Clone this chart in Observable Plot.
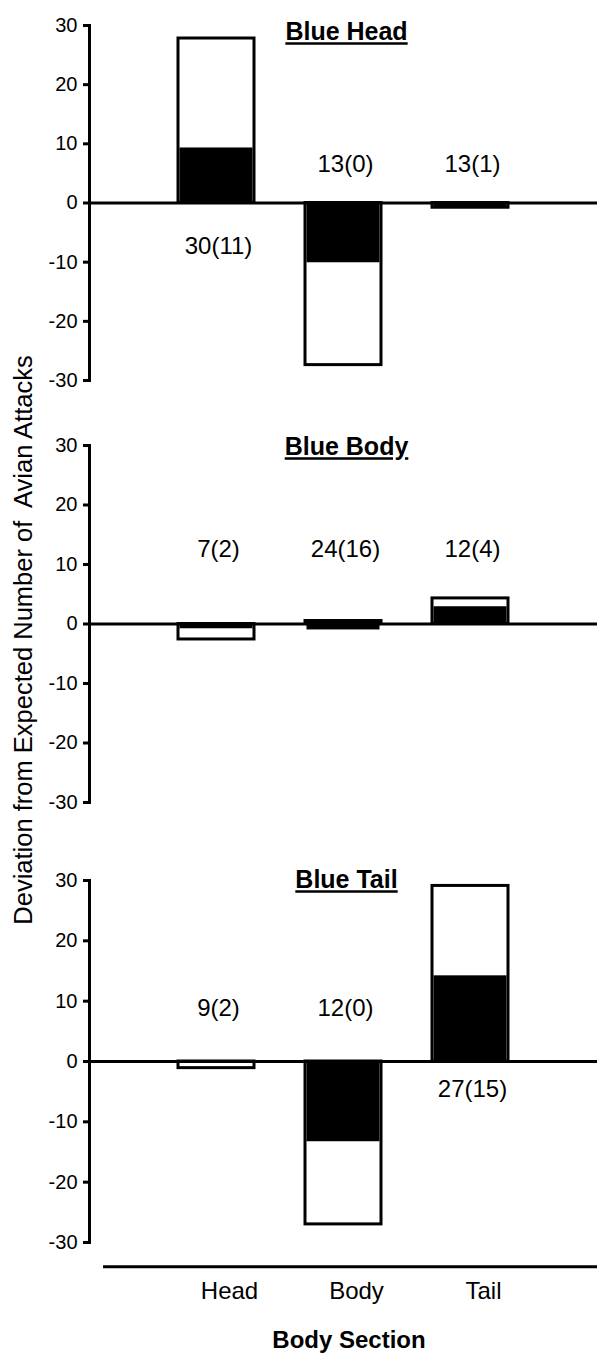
<!DOCTYPE html>
<html>
<head>
<meta charset="utf-8">
<script src="https://cdn.jsdelivr.net/npm/d3@7"></script>
<script src="https://cdn.jsdelivr.net/npm/@observablehq/plot@0.6"></script>
<style>
  html, body { margin: 0; padding: 0; background: #fff; }
  #wrap { position: relative; width: 597px; height: 1354px; overflow: hidden; font-family: "Liberation Sans", Arial, sans-serif; color: #000; background: #fff; }
  .panel { position: absolute; left: 0; }
  #ytitle { position: absolute; z-index: 2; left: 23px; top: 640px; transform: translate(-50%, -50%) rotate(-90deg); white-space: pre; font-size: 25.5px; }
  #xtitle { position: absolute; z-index: 2; left: 349px; top: 1340px; transform: translate(-50%, -50%); white-space: nowrap; font-size: 24px; font-weight: bold; }
</style>
</head>
<body>
<div id="wrap">
  <div id="ytitle">Deviation from Expected Number of  Avian Attacks</div>
  <div id="xtitle">Body Section</div>
</div>
<script>
// ---- data ----
const categories = ["Head", "Body", "Tail"];
const panelTitles = ["Blue Head", "Blue Body", "Blue Tail"];
const yTicks = [-30, -20, -10, 0, 10, 20, 30];

// Blue Head panel
const headTotal = [27.8, -27.4, -0.8];
const headBlack = [9.3, -10.1, -0.8];
const headLabels = ["30(11)", "13(0)", "13(1)"];
const headLabelY = [-7.3, 6.6, 6.6];

// Blue Body panel
const bodyTotal = [-2.6, 0.5, 4.3];
const bodyBlack = [-0.8, -1.0, 2.9];
const bodyLabels = ["7(2)", "24(16)", "12(4)"];
const bodyLabelY = [12.5, 12.5, 12.5];

// Blue Tail panel
const tailTotal = [-1.1, -27.0, 29.1];
const tailBlack = [0, -13.3, 14.2];
const tailLabels = ["9(2)", "12(0)", "27(15)"];
const tailLabelY = [8.8, 8.8, -4.6];

const xBaseline = -34; // value level of the bottom category axis line

function panel(title, total, black, labels, labelY, layout) {
  const rows = categories.map((c, i) => ({section: c, total: total[i], black: black[i], label: labels[i], ly: labelY[i]}));
  const marks = [
    Plot.barY(rows, {x: "section", y: "total", fill: "white", stroke: "black", strokeWidth: 3}),
    Plot.barY(rows, {x: "section", y: "black", fill: "black", insetLeft: 1.5, insetRight: 1.5}),
    Plot.ruleY([0], {stroke: "black", strokeWidth: 3}),
    Plot.frame({anchor: "left", stroke: "black", strokeWidth: 3}),
    Plot.axisY({ticks: yTicks, tickSize: 6, tickPadding: 6, fontSize: 20, strokeWidth: 3, tickFormat: d => String(d)}),
    Plot.text(rows, {x: "section", y: "ly", text: "label", fontSize: 24, dx: 2}),
    Plot.text([title], {frameAnchor: "top", dy: layout.titleDy, dx: 3, fontSize: 25, fontWeight: "bold"})
  ];
  if (layout.xAxis) {
    marks.push(Plot.ruleY([xBaseline], {stroke: "black", strokeWidth: 3, insetLeft: 14}));
    marks.push(Plot.axisX({anchor: "bottom", tickSize: 0, tickPadding: 39, fontSize: 24, dx: 13}));
  }
  const svg = Plot.plot({
    width: 597,
    height: layout.height,
    marginTop: layout.mTop,
    marginBottom: layout.mBottom,
    marginLeft: 89,
    marginRight: 0,
    style: {fontFamily: "'Liberation Sans', Arial, sans-serif", color: "black", background: "transparent", overflow: "visible"},
    x: {domain: categories, paddingInner: 0.4, paddingOuter: 0.69, axis: layout.xAxis ? undefined : null, label: null},
    y: {domain: [-30, 30], label: null},
    marks
  });
  d3.select(svg).selectAll("text").filter(function() { return this.textContent === title; })
    .attr("text-decoration", "underline");
  svg.classList.add("panel");
  svg.style.position = "absolute";
  svg.style.top = layout.top + "px";
  svg.style.left = "0px";
  svg.style.zIndex = "1";
  return svg;
}

const wrap = document.getElementById("wrap");
wrap.appendChild(panel(panelTitles[0], headTotal, headBlack, headLabels, headLabelY, {top: 0, height: 400, mTop: 25, mBottom: 20, titleDy: -3}));
wrap.appendChild(panel(panelTitles[1], bodyTotal, bodyBlack, bodyLabels, bodyLabelY, {top: 400, height: 430, mTop: 45, mBottom: 28, titleDy: -8}));
wrap.appendChild(panel(panelTitles[2], tailTotal, tailBlack, tailLabels, tailLabelY, {top: 830, height: 524, mTop: 50, mBottom: 112, titleDy: -10, xAxis: true}));
</script>
</body>
</html>
